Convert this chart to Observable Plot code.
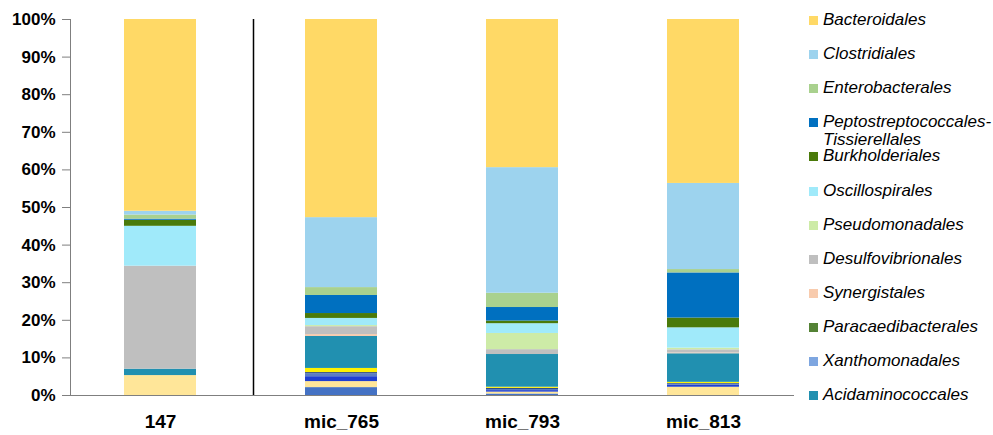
<!DOCTYPE html>
<html>
<head>
<meta charset="utf-8">
<script src="https://cdn.jsdelivr.net/npm/d3@7"></script>
<script src="https://cdn.jsdelivr.net/npm/@observablehq/plot@0.6"></script>
<style>
  body { margin: 0; background: #fff; }
  #chart { position: relative; width: 993px; height: 435px; font-family: "Liberation Sans", Arial, sans-serif; }
  #chart svg { position: absolute; left: 0; top: 0; }
  .legend { position: absolute; left: 809px; top: 0; width: 184px; height: 435px; }
  .item { position: absolute; left: 0; display: flex; align-items: flex-start; white-space: nowrap;
          font-style: italic; font-size: 17px; line-height: 20px; color: #000; }
  .item.tight { line-height: 18px; }
  .sw { width: 9px; height: 9px; margin-top: 6px; margin-right: 5px; flex: none; }
  .item.tight .sw { margin-top: 5px; }
</style>
</head>
<body>
<div id="chart"></div>
<script>
// Samples along the x axis
const samples = ["147", "mic_765", "mic_793", "mic_813"];

// Orders, listed from the bottom of each stack to the top
const orders = [
  "Lactobacillales", "Erysipelotrichales", "Bifidobacteriales", "Coriobacteriales",
  "Verrucomicrobiales", "Fusobacteriales", "Acidaminococcales", "Xanthomonadales",
  "Paracaedibacterales", "Synergistales", "Desulfovibrionales", "Pseudomonadales",
  "Oscillospirales", "Burkholderiales", "Peptostreptococcales-Tissierellales",
  "Enterobacterales", "Clostridiales", "Bacteroidales"
];

const colors = [
  "#4472C4", "#FFE699", "#1F3FD0", "#5B7DC2",
  "#2E4A86", "#FFF200", "#2190B0", "#7EA6E0",
  "#548235", "#F8CBAD", "#BFBFBF", "#CDEBA7",
  "#A0EAFA", "#4A7A0A", "#0070C0",
  "#A9D18E", "#9DD3EE", "#FFD966"
];

// Relative abundance (%) per sample, same order as `orders`
const ab147   = [0,   5.3, 0,   0,   0,   0,   1.7, 0, 0, 0,   27.4, 0,    10.6, 1.6, 0.3,  1.1, 1.0,  51.0];
const mic765  = [2.1, 1.6, 1.3, 0.8, 0.3, 1.1, 8.5, 0, 0, 0.5, 2.1,  0.3,  1.9,  1.3, 4.8,  2.1, 18.6, 52.7];
const mic793  = [0.4, 0.5, 0.4, 0.3, 0.3, 0.3, 8.7, 0, 0, 0,   1.3,  4.3,  2.6,  0.7, 3.6,  3.8, 33.4, 39.4];
const mic813  = [0,   2.2, 0.5, 0.3, 0.2, 0.3, 7.6, 0, 0, 0.2, 0.85, 0.45, 5.4,  2.6, 12.0, 0.9, 22.9, 43.6];
const sampleValues = [ab147, mic765, mic793, mic813];

// Y-axis ticks (%)
const yTicks = [0, 10, 20, 30, 40, 50, 60, 70, 80, 90, 100];

// Legend entries shown, top to bottom
const legendOrders = [
  "Bacteroidales", "Clostridiales", "Enterobacterales",
  "Peptostreptococcales-Tissierellales", "Burkholderiales", "Oscillospirales",
  "Pseudomonadales", "Desulfovibrionales", "Synergistales",
  "Paracaedibacterales", "Xanthomonadales", "Acidaminococcales"
];

const data = samples.flatMap((s, j) =>
  orders.map((o, i) => ({sample: s, order: o, value: sampleValues[j][i]}))
);

const chart = Plot.plot({
  width: 993,
  height: 435,
  marginLeft: 70,
  marginRight: 199,
  marginTop: 19,
  marginBottom: 40,
  style: {fontFamily: "'Liberation Sans', Arial, sans-serif", fontSize: "17px", fontWeight: "bold", color: "#000", background: "#fff"},
  x: {domain: samples, paddingInner: 0.6, paddingOuter: 0.3, label: null},
  y: {domain: [0, 100], label: null},
  color: {domain: orders, range: colors},
  marks: [
    Plot.barY(data, {x: "sample", y: "value", fill: "order", order: orders}),
    Plot.frame({anchor: "left", stroke: "#7f7f7f"}),
    Plot.ruleY([0], {stroke: "#7f7f7f"}),
    Plot.axisY({ticks: yTicks, tickFormat: d => d + "%", tickSize: 8, tickPadding: 7, stroke: "#7f7f7f", fill: "#000", label: null}),
    Plot.axisX({tickSize: 0, tickPadding: 19, fontSize: 19, fill: "#000", label: null}),
    // divider between the reference sample and the mic samples
    Plot.ruleX([samples[1]], {dx: -88, stroke: "#000", strokeWidth: 1.5})
  ]
});

const root = document.getElementById("chart");
root.appendChild(chart);

// Legend
const legend = document.createElement("div");
legend.className = "legend";
legendOrders.forEach((name, i) => {
  const twoLines = name === "Peptostreptococcales-Tissierellales";
  const item = document.createElement("div");
  item.className = twoLines ? "item tight" : "item";
  item.style.top = (20 + i * 34.1 - (twoLines ? 9 : 10)) + "px";
  const sw = document.createElement("span");
  sw.className = "sw";
  sw.style.background = colors[orders.indexOf(name)];
  const label = document.createElement("span");
  label.innerHTML = twoLines ? "Peptostreptococcales-<br>Tissierellales" : name;
  item.appendChild(sw);
  item.appendChild(label);
  legend.appendChild(item);
});
root.appendChild(legend);
</script>
</body>
</html>
